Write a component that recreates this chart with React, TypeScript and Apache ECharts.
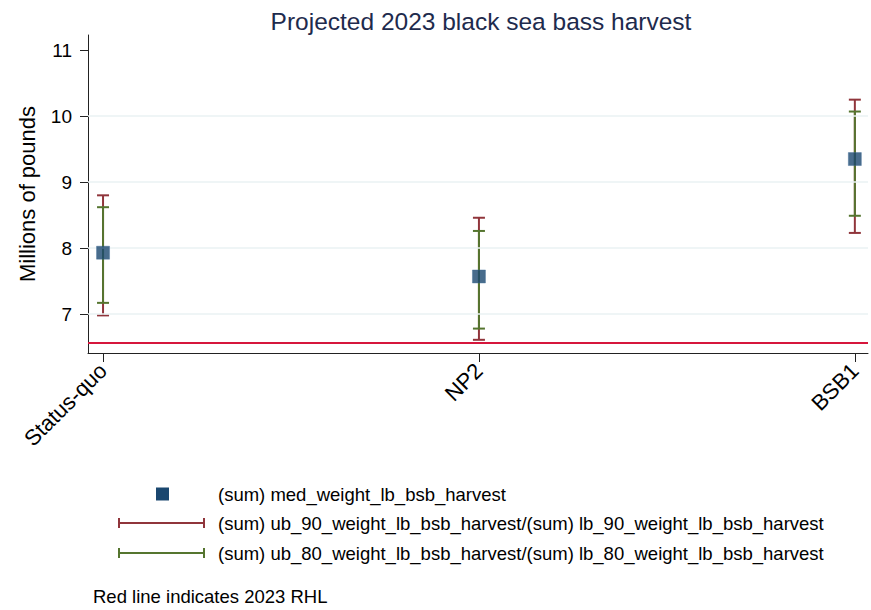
import React, { useEffect, useRef } from "react";
import * as echarts from "echarts";

const categories = ["Status-quo", "NP2", "BSB1"];
const median = [7.93, 7.57, 9.35];
const lb90 = [6.98, 6.61, 8.23];
const ub90 = [8.8, 8.46, 10.25];
const lb80 = [7.17, 6.78, 8.49];
const ub80 = [8.62, 8.26, 10.07];
const rhl = 6.57;
const yTicks = [7, 8, 9, 10, 11];
const gridValues = [7, 8, 9, 10];

const FONT = "Liberation Sans, Arial, sans-serif";
const C90 = "#90353b";
const C80 = "#55752f";
const CMED = "#1a476f";
const CRED = "#d6163c";

function errorSeries(name: string, lo: number[], hi: number[], color: string) {
  return {
    type: "custom",
    name,
    data: categories.map((_, i) => [i, lo[i], hi[i]]),
    encode: { x: 0, y: [1, 2] },
    renderItem: (params: any, api: any) => {
      const x = api.value(0);
      const a = api.coord([x, api.value(1)]);
      const b = api.coord([x, api.value(2)]);
      const hw = 6;
      const style = { stroke: color, lineWidth: 2 };
      return {
        type: "group",
        children: [
          { type: "line", shape: { x1: a[0], y1: a[1], x2: b[0], y2: b[1] }, style },
          { type: "line", shape: { x1: a[0] - hw, y1: a[1], x2: a[0] + hw, y2: a[1] }, style },
          { type: "line", shape: { x1: b[0] - hw, y1: b[1], x2: b[0] + hw, y2: b[1] }, style },
        ],
      };
    },
    z: 3,
  };
}

export default function App() {
  const ref = useRef<HTMLDivElement>(null);
  useEffect(() => {
    if (!ref.current) return;
    const chart = echarts.init(ref.current, null, { renderer: "svg" });
    const legendText = [
      "(sum) med_weight_lb_bsb_harvest",
      "(sum) ub_90_weight_lb_bsb_harvest/(sum) lb_90_weight_lb_bsb_harvest",
      "(sum) ub_80_weight_lb_bsb_harvest/(sum) lb_80_weight_lb_bsb_harvest",
    ];
    const legendY = [494, 523, 553];
    const capLine = (y: number, color: string) => [
      { type: "line", shape: { x1: 119, y1: y, x2: 204, y2: y }, style: { stroke: color, lineWidth: 2 } },
      { type: "line", shape: { x1: 119, y1: y - 5, x2: 119, y2: y + 5 }, style: { stroke: color, lineWidth: 2 } },
      { type: "line", shape: { x1: 204, y1: y - 5, x2: 204, y2: y + 5 }, style: { stroke: color, lineWidth: 2 } },
    ];
    chart.setOption({
      animation: false,
      backgroundColor: "#ffffff",
      title: {
        text: "Projected 2023 black sea bass harvest",
        left: 476,
        top: 4,
        textAlign: "center",
        textStyle: { fontFamily: FONT, fontSize: 24.5, fontWeight: "normal", color: "#1e2b4d" },
      },
      grid: { left: 88, right: 3, top: 35, bottom: 257 },
      xAxis: {
        type: "value",
        min: -0.04,
        max: 2.035,
        splitLine: { show: false },
        axisLine: { show: true, onZero: false, lineStyle: { color: "#222", width: 1 } },
        axisTick: { show: true, customValues: [0, 1, 2], length: 9, lineStyle: { color: "#222" } },
        axisLabel: {
          customValues: [0, 1, 2],
          formatter: (v: number) => categories[Math.round(v)] ?? "",
          rotate: 45,
          margin: 14,
          fontFamily: FONT,
          fontSize: 22,
          color: "#000",
        },
      },
      yAxis: {
        type: "value",
        min: 6.41,
        max: 11.23,
        name: "Millions of pounds",
        nameLocation: "middle",
        nameGap: 50,
        nameTextStyle: { fontFamily: FONT, fontSize: 22, color: "#000" },
        splitLine: { show: false },
        axisLine: { show: true, onZero: false, lineStyle: { color: "#222", width: 1 } },
        axisTick: { show: true, customValues: yTicks, length: 8, lineStyle: { color: "#222" } },
        axisLabel: {
          customValues: yTicks,
          margin: 16,
          fontFamily: FONT,
          fontSize: 19,
          color: "#000",
        },
      },
      series: [
        {
          type: "line",
          data: [],
          silent: true,
          markLine: {
            silent: true,
            symbol: "none",
            label: { show: false },
            lineStyle: { color: "#eaf2f3", width: 1.5, type: "solid" },
            data: gridValues.map((v) => ({ yAxis: v })),
          },
          z: 1,
        },
        {
          type: "line",
          data: [],
          silent: true,
          markLine: {
            silent: true,
            symbol: "none",
            label: { show: false },
            lineStyle: { color: CRED, width: 2, type: "solid" },
            data: [{ yAxis: rhl }],
          },
          z: 2,
        },
        errorSeries("90", lb90, ub90, C90),
        errorSeries("80", lb80, ub80, C80),
        {
          type: "scatter",
          name: "median",
          data: categories.map((_, i) => [i, median[i]]),
          symbol: "rect",
          symbolSize: 13,
          itemStyle: { color: CMED, borderColor: "#3b6a93", borderWidth: 0.5 },
          z: 5,
        },
      ],
      graphic: [
        { type: "rect", shape: { x: 156, y: legendY[0] - 6.5, width: 13, height: 13 }, style: { fill: CMED } },
        ...capLine(legendY[1], C90),
        ...capLine(legendY[2], C80),
        ...legendText.map((t, i) => ({
          type: "text",
          x: 218,
          y: legendY[i],
          style: { text: t, fontFamily: FONT, fontSize: 18.5, fill: "#000", verticalAlign: "middle" },
        })),
        {
          type: "text",
          x: 93,
          y: 596,
          style: { text: "Red line indicates 2023 RHL", fontFamily: FONT, fontSize: 18.5, fill: "#000", verticalAlign: "middle" },
        },
      ],
    });
    return () => chart.dispose();
  }, []);
  return <div ref={ref} style={{ width: 871, height: 610, position: "absolute", left: 0, top: 0 }} />;
}
